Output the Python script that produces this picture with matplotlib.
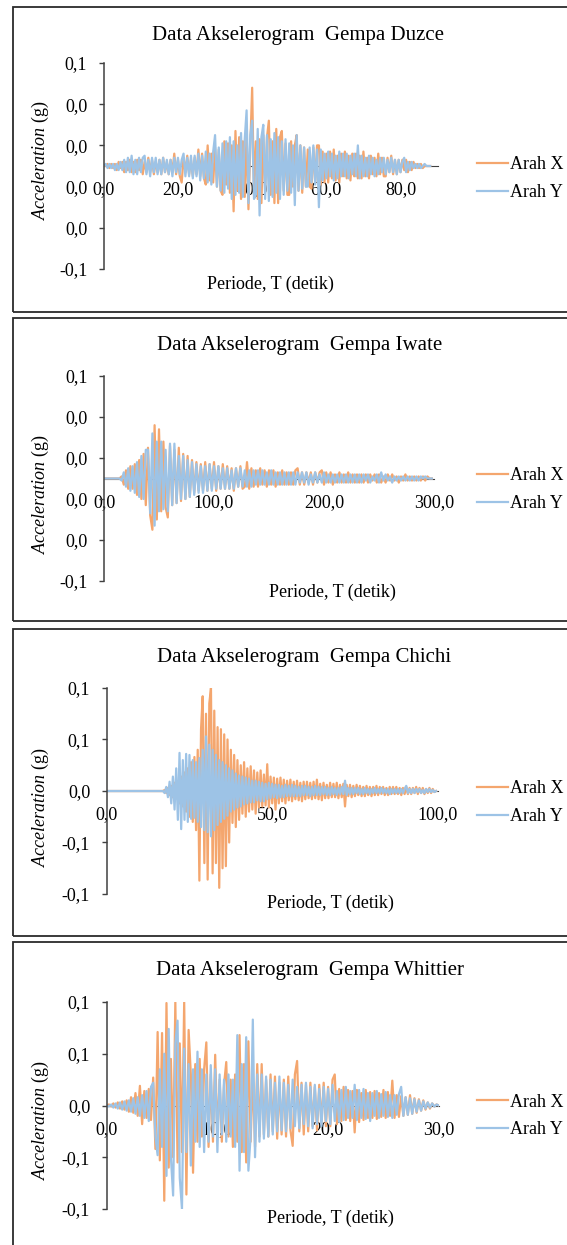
import numpy as np
import matplotlib
matplotlib.use('Agg')
import matplotlib.pyplot as plt
from matplotlib.patches import Rectangle
from matplotlib.ticker import FuncFormatter

plt.rcParams['font.family'] = 'Liberation Serif'
plt.rcParams['mathtext.fontset'] = 'custom'
plt.rcParams['mathtext.rm'] = 'Liberation Serif'
plt.rcParams['mathtext.it'] = 'Liberation Serif:italic'

W, H = 567, 1245
ORANGE = '#F4A66E'
BLUE = '#9DC3E6'
AXIS = '#404040'

# accelerograms, values in 0.001 g
# Duzce: dt 0.5 s from t = 0
duzce_dt = 0.5
duzce_x = [
    0, 0, 1, -1, 1, -1, 1, -2, 2, -1,
    2, -3, 2, -2, 3, -3, 2, -3, 3, -2,
    3, -4, 2, -3, 4, -3, 3, -4, 2, -3,
    3, -4, 4, -3, 2, -4, 3, -3, 6, -4,
    3, -5, -8, 4, -3, 5, -4, 3, -5, 4,
    -4, 8, -5, 6, -6, -9, 10, -7, 6, -8,
    9, -10, 8, -12, -14, 12, -9, 11, -13, 10,
    -22, 17, -12, 14, -16, 12, -15, 16, -21, 10,
    38, -14, 12, -16, 13, -18, 15, -12, 14, 22,
    -14, 12, -18, 18, -18, 14, 17, -12, 11, -14,
    -14, 12, -10, 10, 15, -12, 10, -13, 9, -10,
    8, -10, -11, 9, -8, 10, 10, -9, 7, -8,
    6, -8, 7, -6, 8, -7, 5, -8, 6, -5,
    7, -6, 5, -7, 6, -5, 6, -6, 5, -6,
    7, -5, 4, -6, 5, -4, 4, -5, 6, -4,
    4, -5, -5, 4, -3, 5, -4, 3, -4, 3,
    -3, 3, -2, 3, -3, 2, -2, 2, -1, 1,
    -1, 1, -1, 0, 0, 0, 0]
duzce_y = [
    0, 1, -1, 1, -1, 1, -2, 1, -2, 2,
    -2, 3, -3, 4, -3, 5, -4, 3, -4, 4,
    -3, 4, 5, -4, 3, -5, 4, -3, 4, -4,
    3, -4, 4, -3, 3, -4, 3, -5, 4, -3,
    4, -4, 3, 6, -5, 4, -5, 5, -6, 5,
    -5, 6, -7, 5, -6, 7, -8, 6, -9, 7,
    15, -10, 9, -12, 11, -13, 12, -11, 14, -16,
    12, -14, 10, -13, 16, -15, 13, 27, -18, 15,
    22, -16, -14, 18, -24, 14, 20, -16, 15, -17,
    13, -15, 16, -13, 14, -16, 12, -14, 13, -12,
    11, -13, 10, -19, 15, -12, 10, -11, 9, -10,
    -10, 9, -8, 10, -9, 8, -20, 8, -7, 6,
    -6, 7, -5, 6, -7, 5, -6, 7, -5, 6,
    -5, 6, -6, 5, -4, 6, -5, 10, -6, 5,
    -5, 4, -5, 5, -4, 4, -5, 3, -4, 4,
    -3, 4, -4, 3, -3, 4, -3, 3, -4, 3,
    -3, 2, 4, -3, 2, -2, 2, -1, 1, -1,
    1, -1, 0, 1, 0, 0, 0]

# Iwate: dt 2 s from t = 0
iwate_dt = 2.0
iwate_x = [
    0, 0, 0, 0, 0, 0, 0, 0, 1, -3,
    4, -5, 6, -5, 7, -8, 9, -10, 12, -13,
    15, -18, -25, 26, -20, 24, -16, 18, -14, -19,
    16, -13, 14, -12, 15, -11, 12, -10, 11, -9,
    9, -7, 8, -6, 7, -6, 8, -6, 7, -5,
    8, -6, 6, -5, 7, -5, 6, -5, 5, -6,
    5, -4, 6, -5, -4, 8, -5, 5, -4, 4,
    -4, 5, -3, 4, -4, 4, -3, 4, -4, 3,
    -3, 4, -3, 3, -3, 3, -3, 4, 5, -3,
    3, -3, 3, -2, 3, -3, 3, -2, 3, 4,
    -3, 3, -2, 3, -3, 2, -2, 3, -2, 2,
    -2, 3, -2, 2, -2, 2, -2, 2, -2, 2,
    -2, 2, -1, 2, -2, 2, -2, 1, -2, 2,
    -1, 2, -1, 1, -2, 1, -1, 2, -1, 1,
    -1, 1, -1, 1, -1, 1, -1, 1, 0, 0]
iwate_y = [
    0, 0, 0, 0, 0, 0, 0, 0, -1, 3,
    -4, 5, -6, 6, -7, 8, -9, 11, -10, 14,
    14, -17, 22, -23, 18, -16, 18, -15, 14, -16,
    17, -13, 17, -12, 11, -10, 11, -10, 9, -9,
    8, -8, 7, -7, 6, -7, 6, -6, 7, -6,
    6, -5, 6, -5, 5, -5, 5, -5, 4, -5,
    5, -4, 5, -4, 4, -4, 4, -4, 4, -3,
    4, -3, 4, -3, 3, -3, 4, -3, 3, -3,
    3, -3, 3, -3, 3, -3, 3, -3, 3, -2,
    3, -2, 3, -3, 2, -2, 3, -2, 2, -2,
    3, -2, 2, -2, 2, -2, 2, -2, 2, -2,
    2, -2, 2, -2, 2, -2, 2, -2, 2, -1,
    2, -2, 1, -1, 2, -2, 3, -1, 2, -1,
    1, -2, 1, -1, 1, -1, 1, -1, 1, -1,
    1, -1, 1, -1, 1, 0, 1, 0, 0, 0]

# Chichi: quiet until 17 s, then dt 0.5 s
chichi_start = 17.0
chichi_dt = 0.5
chichi_x = [
    0, 1, -2, 3, -4, 5, -6, 8, -7, 9,
    -12, 14, -15, 18, -20, 22, -25, 28, -30, 33,
    -38, 40, -87, 60, 92, -70, 75, -86, 85, 100,
    -80, 78, -70, 62, -94, 60, -75, 55, -73, 50,
    -50, 40, -31, 35, -35, 30, -28, 25, -22, 28,
    -25, 22, -20, 24, -18, 20, -22, 18, -16, 20,
    -15, 16, -14, 26, -16, 14, -12, 13, -18, 12,
    -12, 13, -10, 11, -12, 10, -9, 11, -10, 9,
    -8, 10, -9, 8, -10, 9, -8, 9, -7, 8,
    -8, 9, -7, 11, -8, 7, -9, 8, -7, 6,
    -7, 8, -6, 7, -6, 8, -7, 6, -6, 7,
    -15, 6, -5, 6, -6, 5, -5, 6, -4, 5,
    -5, 4, -5, 5, -4, 4, -5, 4, -4, 5,
    -4, 4, -3, 4, -4, 3, -4, 4, -3, 4,
    -3, 4, -3, 3, -4, 3, -3, 4, -3, 3,
    -3, 3, -2, 4, -3, 3, -2, 3, -3, 2,
    -2, 3, -2, 2, -1, 0]
chichi_y = [
    0, -2, 4, -6, 9, -12, 14, -18, 22, -28,
    37, -37, 30, -28, 36, -30, 35, -27, 30, -26,
    28, -30, 32, -35, 40, -38, 53, -40, 45, -44,
    40, -38, 35, -33, 30, -30, 28, -27, 25, -24,
    22, -20, 20, -18, 17, -16, 15, -15, 14, -13,
    13, -12, 12, -11, 10, -11, 10, -9, 9, -10,
    8, -10, 7, -8, 8, -7, 7, -6, 6, -7,
    6, -6, 5, -6, 6, -5, 5, -5, 6, -5,
    5, -5, 4, -5, 5, -4, 5, -4, 4, -5,
    4, -4, 5, -4, 4, -4, 4, -3, 4, -4,
    3, -4, 4, -3, 3, -4, 3, -3, 4, -3,
    10, -4, 3, -3, 3, -3, 3, -2, 3, -3,
    2, -3, 3, -2, 2, -3, 2, -2, 3, -2,
    2, -2, 3, -2, 2, -2, 2, -3, 2, -2,
    2, -2, 2, -2, 2, -2, 2, 5, -2, 2,
    -2, 2, -2, 2, -1, 2, -2, 1, -2, 2,
    -1, 2, -1, 1, -1, 0]

# Whittier: dt 0.2 s from t = 0
whittier_dt = 0.2
whittier_x = [
    0, 1, -1, 2, -2, 3, -3, 4, -4, 5,
    -6, 8, -7, 12, -10, 19, -18, 14, -12, 16,
    -14, 27, -42, 71, -53, 70, -92, 99, -60, 45,
    -50, 100, -55, 60, -45, 100, -86, 73, 30, -65,
    40, -35, 45, -30, 35, 61, -40, 30, -35, 49,
    -30, 25, -35, 20, 42, -30, 25, -40, 30, -35,
    68, -45, 40, -55, 62, -35, 30, -40, 40, -30,
    40, -28, 25, -30, 30, -25, 28, -32, 22, -28,
    25, -30, 28, -24, -39, 30, 43, -25, 22, -28,
    20, -25, 22, -20, 18, -24, 20, -18, 22, -20,
    18, -20, 25, 30, -18, 16, -15, 18, -14, 15,
    -15, 14, -26, 15, -16, 12, -14, 15, -12, 13,
    -12, 14, -13, 12, -11, 15, -12, 13, -10, 24,
    -12, 10, -11, 9, -10, 8, -9, 10, -8, 7,
    -7, 6, -5, 5, -4, 3, -3, 2, -1, 1,
    0]
whittier_y = [
    0, -1, 1, -2, 2, -3, 3, -4, 4, -5,
    5, -6, 7, -8, 8, -10, 10, -12, 14, -15,
    18, 22, -30, -48, 35, -40, 50, -68, 74, -50,
    -87, 60, 82, -70, -100, 55, -45, 40, -58, 35,
    -35, 52, -40, 35, -45, 30, -35, 39, -30, 35,
    -45, 30, -28, 25, -35, 30, -30, 25, -40, 68,
    -63, 40, -45, 66, -63, -30, 83, -50, 30, -35,
    30, -32, 28, -30, 25, -28, 22, -25, 28, -24,
    22, -25, 20, -22, 25, -20, 18, -22, 20, -18,
    22, -20, 18, -22, 20, -18, 16, -20, 18, -15,
    16, -18, 20, -15, 14, -16, 15, -14, 18, -12,
    14, -12, 20, -14, 15, -12, 16, -13, 12, -15,
    12, -10, 14, -12, 11, -10, 13, -11, 10, -12,
    10, -9, 11, 18, -10, 8, -9, 7, -8, 6,
    -6, 5, -5, 4, -3, 3, -2, 2, -1, 1,
    0]

series_labels = ['Arah X', 'Arah Y']
small_yticks = [0.05, 0.03, 0.01, -0.01, -0.03, -0.05]
small_ylabels = ['0,1', '0,0', '0,0', '0,0', '0,0', '-0,1']
big_yticks = [0.1, 0.05, 0.0, -0.05, -0.1]
big_ylabels = ['0,1', '0,1', '0,0', '-0,1', '-0,1']

fig = plt.figure(figsize=(W / 100, H / 100), dpi=100)


def fy(y):
    return 1 - y / H


def draw_panel(name, start, dt, acc_x, acc_y, xmax, xticks, yticks, ylabels, lay):
    #frame
    top, bottom = lay['box']
    fig.add_artist(Rectangle((13 / W, fy(bottom)), 620 / W, (bottom - top) / H,
                             transform=fig.transFigure, fill=False,
                             ec='#2b2b2b', lw=1.3))

    #plot_face
    x0, x1, y0, y1 = lay['axes']
    ax = fig.add_axes([x0 / W, fy(y1), (x1 - x0) / W, (y1 - y0) / H])
    for acc, color, label in [(acc_x, ORANGE, series_labels[0]),
                              (acc_y, BLUE, series_labels[1])]:
        a = np.array(acc) / 1000.0
        t = start + dt * np.arange(len(a))
        if start > 0:
            t = np.r_[0.0, t]
            a = np.r_[0.0, a]
        ax.plot(t, a, color=color, lw=1.6, label=label)

    ax.set_xlim(0, xmax)
    ax.set_ylim(yticks[-1], yticks[0])
    ax.set_yticks(yticks)
    ax.set_yticklabels(ylabels)
    ax.set_xticks(xticks)
    ax.xaxis.set_major_formatter(FuncFormatter(lambda v, p: f'{v:.1f}'.replace('.', ',')))
    ax.tick_params(axis='y', direction='out', length=3.9, width=1.0,
                   color=AXIS, pad=8.0, labelsize=13)
    ax.tick_params(axis='x', length=0, pad=11.0, labelsize=13)
    for s in ['top', 'right']:
        ax.spines[s].set_visible(False)
    ax.spines['bottom'].set_position(('data', 0))
    ax.spines['bottom'].set_zorder(1)
    ax.spines['bottom'].set_color(AXIS)
    ax.spines['left'].set_color(AXIS)
    ax.spines['left'].set_linewidth(1.1)
    ax.patch.set_alpha(0)

    #texts
    fig.text(lay['title'][0] / W, fy(lay['title'][1]),
             'Data Akselerogram  Gempa ' + name,
             ha='center', va='baseline', fontsize=15)
    fig.text(lay['xlab'][0] / W, fy(lay['xlab'][1]), 'Periode, T (detik)',
             ha='center', va='baseline', fontsize=13)
    fig.text(40.5 / W, fy(lay['ylab']), r'$\mathit{Acceleration}$ (g)',
             rotation=90, ha='center', va='center', fontsize=13)

    ax.legend(loc='center left', bbox_to_anchor=(477 / W, fy(lay['leg'])),
              bbox_transform=fig.transFigure, frameon=False, fontsize=13,
              handlelength=1.7, handletextpad=0.15, labelspacing=0.6,
              borderpad=0, borderaxespad=0)
    return ax


draw_panel('Duzce', 0.0, duzce_dt, duzce_x, duzce_y, 90, [0, 20, 40, 60, 80],
           small_yticks, small_ylabels,
           {'box': (7, 312), 'axes': (103.8, 437.6, 63, 269), 'title': (297.6, 40),
            'xlab': (270.5, 289), 'ylab': 160, 'leg': 178.5})
draw_panel('Iwate', 0.0, iwate_dt, iwate_x, iwate_y, 300, [0, 100, 200, 300],
           small_yticks, small_ylabels,
           {'box': (318, 621), 'axes': (104, 434, 376, 581), 'title': (299.5, 350),
            'xlab': (332, 597), 'ylab': 494, 'leg': 489.5})
draw_panel('Chichi', chichi_start, chichi_dt, chichi_x, chichi_y, 100, [0, 50, 100],
           big_yticks, big_ylabels,
           {'box': (629, 936), 'axes': (106.7, 437.7, 688, 894), 'title': (304, 662),
            'xlab': (330, 908), 'ylab': 807, 'leg': 802.5})
draw_panel('Whittier', 0.0, whittier_dt, whittier_x, whittier_y, 30, [0, 10, 20, 30],
           big_yticks, big_ylabels,
           {'box': (942, 1252), 'axes': (106.7, 438.8, 1002, 1209), 'title': (310, 975),
            'xlab': (330, 1223), 'ylab': 1120, 'leg': 1116})

fig.savefig('out.png', dpi=100)
